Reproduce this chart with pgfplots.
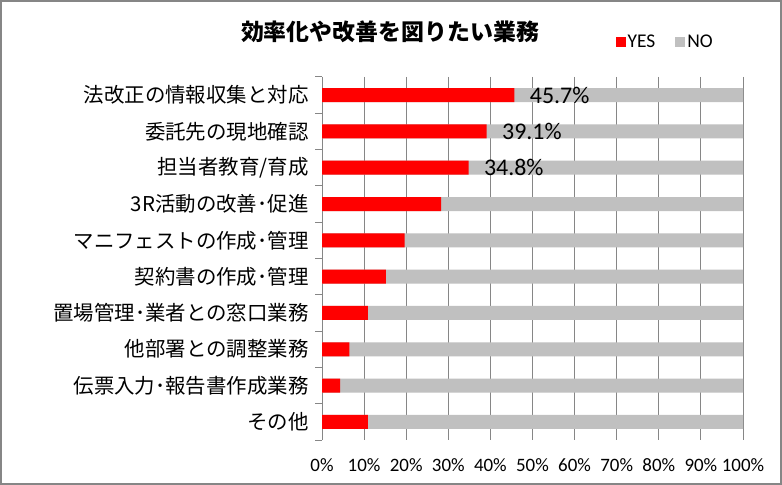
\documentclass[border=0pt]{standalone}
\usepackage{pgfplots}
\usepackage{pgfplotstable}
\pgfplotsset{compat=1.18}
\usepackage{fontspec}
\setmainfont{Carlito}
\newfontfamily\jp{Noto Sans CJK JP}
\definecolor{barred}{RGB}{255,0,0}
\definecolor{bargray}{RGB}{192,192,192}
\definecolor{gridgray}{RGB}{134,134,134}

\pgfplotstableread{
idx yes no lab
0 45.7 54.3 45.7\%
1 39.1 60.9 39.1\%
2 34.8 65.2 34.8\%
3 28.3 71.7 {}
4 19.6 80.4 {}
5 15.2 84.8 {}
6 10.9 89.1 {}
7 6.5 93.5 {}
8 4.3 95.7 {}
9 10.9 89.1 {}
}\datatable

\begin{document}
\begin{tikzpicture}
\useasboundingbox (0,0) rectangle (782bp,485bp);
\fill[white] (0,0) rectangle (782bp,485bp);
\begin{axis}[
  at={(322bp,45bp)}, anchor=south west,
  scale only axis, width=421bp, height=363bp,
  xbar, bar width=14bp, bar shift=0pt,
  xmin=0, xmax=100, ymin=-0.5, ymax=9.5,
  y dir=reverse,
  axis lines*=left,
  x axis line style={draw=none},
  y axis line style={draw=gridgray, line width=1bp},
  xmajorgrids, grid style={draw=gridgray, line width=1bp},
  xtick={0,10,...,100},
  xticklabels={0\%,10\%,20\%,30\%,40\%,50\%,60\%,70\%,80\%,90\%,100\%},
  ytick={0,...,9},
  yticklabels={法改正の情報収集と対応,委託先の現地確認,担当者教育/育成,3R活動の改善･促進,マニフェストの作成･管理,契約書の作成･管理,置場管理･業者との窓口業務,他部署との調整業務,伝票入力･報告書作成業務,その他},
  minor ytick={-0.5,0.5,...,9.5},
  major tick length=0pt, minor tick length=7bp,
  tick align=outside,
  tick style={draw=gridgray, line width=1bp},
  xticklabel style={font=\fontsize{19}{22}\selectfont, yshift=-15bp},
  yticklabel style={font=\jp\fontsize{20.5}{24}\selectfont, xshift=-10bp},
  legend style={draw=none, fill=none, legend columns=2,
    font=\fontsize{19.5}{22}\selectfont,
    nodes={font=\fontsize{19.5}{22}\selectfont, inner sep=2bp},
    at={(axis description cs:0.815,1.096)}, anchor=center,
    /tikz/every even column/.append style={column sep=18bp}},
  legend image code/.code={\draw[#1,draw=none] (0bp,-5bp) rectangle (10bp,5bp);},
  reverse legend,
]
\addplot[fill=bargray, draw=none] table[x expr={\thisrow{yes}+\thisrow{no}}, y=idx] {\datatable};
\addlegendentry{NO}
\addplot[fill=barred, draw=none,
  nodes near coords, point meta=explicit symbolic,
  nodes near coords style={font=\fontsize{24}{27}\selectfont, anchor=west, xshift=12bp, text=black}]
  table[x=yes, y=idx, meta=lab] {\datatable};
\addlegendentry{YES}
\end{axis}
\node[font=\jp\bfseries\fontsize{23}{26}\selectfont] at (390bp,453bp) {効率化や改善を図りたい業務};
\draw[gridgray, line width=2bp] (1bp,1bp) rectangle (781bp,484bp);
\end{tikzpicture}
\end{document}
